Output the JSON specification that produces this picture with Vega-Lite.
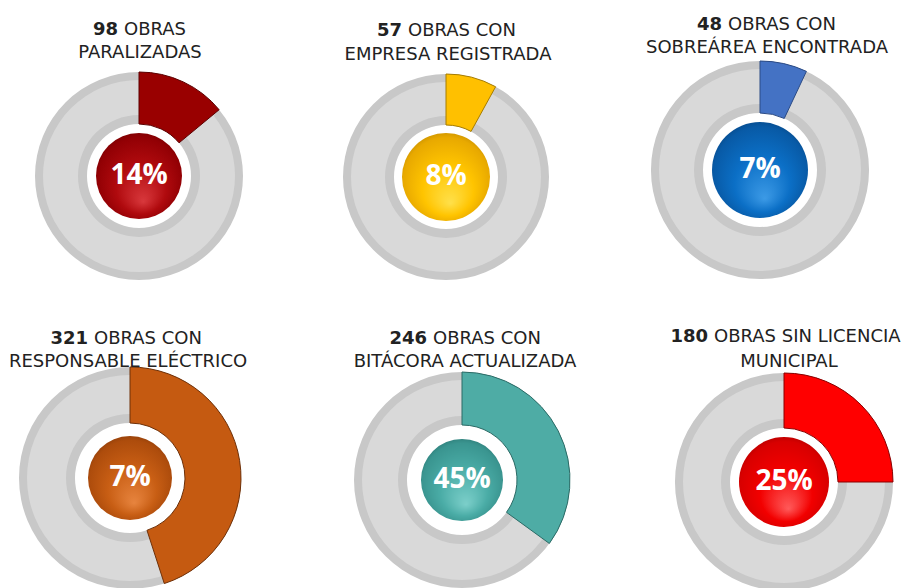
{
  "$schema": "https://vega.github.io/schema/vega-lite/v6.json",
  "padding": 0,
  "spacing": 0,
  "bounds": "flush",
  "background": "white",
  "columns": 3,
  "config": {"view": {"stroke": null}, "concat": {"spacing": 0}, "axis": {"disable": true}},
  "datasets": {
    "obras": [
      {"id": 1, "num": "98", "rest": "OBRAS", "line2": "PARALIZADAS", "label": "14%", "share": 0.14},
      {"id": 2, "num": "57", "rest": "OBRAS CON", "line2": "EMPRESA REGISTRADA", "label": "8%", "share": 0.08},
      {"id": 3, "num": "48", "rest": "OBRAS CON", "line2": "SOBREÁREA ENCONTRADA", "label": "7%", "share": 0.07},
      {"id": 4, "num": "321", "rest": "OBRAS CON", "line2": "RESPONSABLE ELÉCTRICO", "label": "7%", "share": 0.45},
      {"id": 5, "num": "246", "rest": "OBRAS CON", "line2": "BITÁCORA ACTUALIZADA", "label": "45%", "share": 0.35},
      {"id": 6, "num": "180", "rest": "OBRAS SIN LICENCIA", "line2": "MUNICIPAL", "label": "25%", "share": 0.25}
    ]
  },
  "concat": [
    {
      "width": 304, "height": 294,
      "data": {"name": "obras"},
      "transform": [{"filter": "datum.id == 1"}],
      "encoding": {
        "x": {"datum": 139, "type": "quantitative", "scale": {"domain": [0, 304]}},
        "y": {"datum": 176, "type": "quantitative", "scale": {"domain": [0, 294], "reverse": true}}
      },
      "layer": [
        {"mark": {"type": "arc", "theta": 0, "theta2": 6.2832, "radius": 104, "radius2": 52, "fill": "#c8c8c8"}},
        {"mark": {"type": "arc", "theta": 0, "theta2": 6.2832, "radius": 96, "radius2": 61, "fill": "#d9d9d9"}},
        {"mark": {"type": "arc", "radius": 104, "radius2": 52, "fill": "#990000", "stroke": "#5c0000", "strokeWidth": 1},
         "encoding": {"theta": {"field": "share", "type": "quantitative", "scale": {"domain": [0, 1]}}}},
        {"mark": {"type": "arc", "theta": 0, "theta2": 6.2832, "radius": 43,
          "fill": {"gradient": "radial", "x1": 0.55, "y1": 0.8, "r1": 0, "x2": 0.5, "y2": 0.5, "r2": 0.58,
            "stops": [{"offset": 0, "color": "#d8383c"}, {"offset": 0.5, "color": "#b00a0e"}, {"offset": 0.85, "color": "#920004"}, {"offset": 1, "color": "#6a0000"}]}}},
        {"mark": {"type": "text", "font": "Open Sans", "fontWeight": "bold", "fontSize": 28, "fill": "white", "baseline": "middle"},
         "encoding": {"text": {"field": "label"}}},
        {"mark": {"type": "text", "font": "DejaVu Sans", "fontWeight": "bold", "fontSize": 18, "align": "right", "fill": "#222222"},
         "encoding": {"x": {"datum": 118, "type": "quantitative", "scale": {"domain": [0, 304]}}, "y": {"datum": 30, "type": "quantitative", "scale": {"domain": [0, 294], "reverse": true}}, "text": {"field": "num"}}},
        {"mark": {"type": "text", "font": "DejaVu Sans", "fontSize": 18, "align": "left", "dx": 6, "fill": "#222222"},
         "encoding": {"x": {"datum": 118, "type": "quantitative", "scale": {"domain": [0, 304]}}, "y": {"datum": 30, "type": "quantitative", "scale": {"domain": [0, 294], "reverse": true}}, "text": {"field": "rest"}}},
        {"mark": {"type": "text", "font": "DejaVu Sans", "fontSize": 18, "align": "center", "fill": "#222222"},
         "encoding": {"x": {"datum": 140, "type": "quantitative", "scale": {"domain": [0, 304]}}, "y": {"datum": 53, "type": "quantitative", "scale": {"domain": [0, 294], "reverse": true}}, "text": {"field": "line2"}}}
      ]
    },
    {
      "width": 304, "height": 294,
      "data": {"name": "obras"},
      "transform": [{"filter": "datum.id == 2"}],
      "encoding": {
        "x": {"datum": 142, "type": "quantitative", "scale": {"domain": [0, 304]}},
        "y": {"datum": 177, "type": "quantitative", "scale": {"domain": [0, 294], "reverse": true}}
      },
      "layer": [
        {"mark": {"type": "arc", "theta": 0, "theta2": 6.2832, "radius": 103, "radius2": 52, "fill": "#c8c8c8"}},
        {"mark": {"type": "arc", "theta": 0, "theta2": 6.2832, "radius": 95, "radius2": 61, "fill": "#d9d9d9"}},
        {"mark": {"type": "arc", "radius": 103, "radius2": 52, "fill": "#ffc000", "stroke": "#a67c00", "strokeWidth": 1},
         "encoding": {"theta": {"field": "share", "type": "quantitative", "scale": {"domain": [0, 1]}}}},
        {"mark": {"type": "arc", "theta": 0, "theta2": 6.2832, "radius": 44,
          "fill": {"gradient": "radial", "x1": 0.55, "y1": 0.8, "r1": 0, "x2": 0.5, "y2": 0.5, "r2": 0.58,
            "stops": [{"offset": 0, "color": "#ffe04a"}, {"offset": 0.5, "color": "#ffc400"}, {"offset": 0.85, "color": "#e8a900"}, {"offset": 1, "color": "#b88400"}]}}},
        {"mark": {"type": "text", "font": "Open Sans", "fontWeight": "bold", "fontSize": 28, "fill": "white", "baseline": "middle"},
         "encoding": {"text": {"field": "label"}}},
        {"mark": {"type": "text", "font": "DejaVu Sans", "fontWeight": "bold", "fontSize": 18, "align": "right", "fill": "#222222"},
         "encoding": {"x": {"datum": 98, "type": "quantitative", "scale": {"domain": [0, 304]}}, "y": {"datum": 31, "type": "quantitative", "scale": {"domain": [0, 294], "reverse": true}}, "text": {"field": "num"}}},
        {"mark": {"type": "text", "font": "DejaVu Sans", "fontSize": 18, "align": "left", "dx": 6, "fill": "#222222"},
         "encoding": {"x": {"datum": 98, "type": "quantitative", "scale": {"domain": [0, 304]}}, "y": {"datum": 31, "type": "quantitative", "scale": {"domain": [0, 294], "reverse": true}}, "text": {"field": "rest"}}},
        {"mark": {"type": "text", "font": "DejaVu Sans", "fontSize": 18, "align": "center", "fill": "#222222"},
         "encoding": {"x": {"datum": 144, "type": "quantitative", "scale": {"domain": [0, 304]}}, "y": {"datum": 55, "type": "quantitative", "scale": {"domain": [0, 294], "reverse": true}}, "text": {"field": "line2"}}}
      ]
    },
    {
      "width": 304, "height": 294,
      "data": {"name": "obras"},
      "transform": [{"filter": "datum.id == 3"}],
      "encoding": {
        "x": {"datum": 152, "type": "quantitative", "scale": {"domain": [0, 304]}},
        "y": {"datum": 170, "type": "quantitative", "scale": {"domain": [0, 294], "reverse": true}}
      },
      "layer": [
        {"mark": {"type": "arc", "theta": 0, "theta2": 6.2832, "radius": 109, "radius2": 57, "fill": "#c8c8c8"}},
        {"mark": {"type": "arc", "theta": 0, "theta2": 6.2832, "radius": 101, "radius2": 66, "fill": "#d9d9d9"}},
        {"mark": {"type": "arc", "radius": 109, "radius2": 57, "fill": "#4472c4", "stroke": "#2a4a85", "strokeWidth": 1},
         "encoding": {"theta": {"field": "share", "type": "quantitative", "scale": {"domain": [0, 1]}}}},
        {"mark": {"type": "arc", "theta": 0, "theta2": 6.2832, "radius": 48,
          "fill": {"gradient": "radial", "x1": 0.55, "y1": 0.8, "r1": 0, "x2": 0.5, "y2": 0.5, "r2": 0.58,
            "stops": [{"offset": 0, "color": "#3c9ae6"}, {"offset": 0.5, "color": "#0b6fc6"}, {"offset": 0.85, "color": "#085aa6"}, {"offset": 1, "color": "#053f78"}]}}},
        {"mark": {"type": "text", "font": "Open Sans", "fontWeight": "bold", "fontSize": 28, "fill": "white", "baseline": "middle"},
         "encoding": {"text": {"field": "label"}}},
        {"mark": {"type": "text", "font": "DejaVu Sans", "fontWeight": "bold", "fontSize": 18, "align": "right", "fill": "#222222"},
         "encoding": {"x": {"datum": 114, "type": "quantitative", "scale": {"domain": [0, 304]}}, "y": {"datum": 25, "type": "quantitative", "scale": {"domain": [0, 294], "reverse": true}}, "text": {"field": "num"}}},
        {"mark": {"type": "text", "font": "DejaVu Sans", "fontSize": 18, "align": "left", "dx": 6, "fill": "#222222"},
         "encoding": {"x": {"datum": 114, "type": "quantitative", "scale": {"domain": [0, 304]}}, "y": {"datum": 25, "type": "quantitative", "scale": {"domain": [0, 294], "reverse": true}}, "text": {"field": "rest"}}},
        {"mark": {"type": "text", "font": "DejaVu Sans", "fontSize": 18, "align": "center", "fill": "#222222"},
         "encoding": {"x": {"datum": 159, "type": "quantitative", "scale": {"domain": [0, 304]}}, "y": {"datum": 48, "type": "quantitative", "scale": {"domain": [0, 294], "reverse": true}}, "text": {"field": "line2"}}}
      ]
    },
    {
      "width": 304, "height": 294,
      "data": {"name": "obras"},
      "transform": [{"filter": "datum.id == 4"}],
      "encoding": {
        "x": {"datum": 130, "type": "quantitative", "scale": {"domain": [0, 304]}},
        "y": {"datum": 184, "type": "quantitative", "scale": {"domain": [0, 294], "reverse": true}}
      },
      "layer": [
        {"mark": {"type": "arc", "theta": 0, "theta2": 6.2832, "radius": 111, "radius2": 55, "fill": "#c8c8c8"}},
        {"mark": {"type": "arc", "theta": 0, "theta2": 6.2832, "radius": 103, "radius2": 64, "fill": "#d9d9d9"}},
        {"mark": {"type": "arc", "radius": 111, "radius2": 55, "fill": "#c55a11", "stroke": "#6e3008", "strokeWidth": 1},
         "encoding": {"theta": {"field": "share", "type": "quantitative", "scale": {"domain": [0, 1]}}}},
        {"mark": {"type": "arc", "theta": 0, "theta2": 6.2832, "radius": 42,
          "fill": {"gradient": "radial", "x1": 0.55, "y1": 0.8, "r1": 0, "x2": 0.5, "y2": 0.5, "r2": 0.58,
            "stops": [{"offset": 0, "color": "#e7843e"}, {"offset": 0.5, "color": "#c85e14"}, {"offset": 0.85, "color": "#ad4c0c"}, {"offset": 1, "color": "#7e3608"}]}}},
        {"mark": {"type": "text", "font": "Open Sans", "fontWeight": "bold", "fontSize": 28, "fill": "white", "baseline": "middle"},
         "encoding": {"text": {"field": "label"}}},
        {"mark": {"type": "text", "font": "DejaVu Sans", "fontWeight": "bold", "fontSize": 18, "align": "right", "fill": "#222222"},
         "encoding": {"x": {"datum": 88, "type": "quantitative", "scale": {"domain": [0, 304]}}, "y": {"datum": 45, "type": "quantitative", "scale": {"domain": [0, 294], "reverse": true}}, "text": {"field": "num"}}},
        {"mark": {"type": "text", "font": "DejaVu Sans", "fontSize": 18, "align": "left", "dx": 6, "fill": "#222222"},
         "encoding": {"x": {"datum": 88, "type": "quantitative", "scale": {"domain": [0, 304]}}, "y": {"datum": 45, "type": "quantitative", "scale": {"domain": [0, 294], "reverse": true}}, "text": {"field": "rest"}}},
        {"mark": {"type": "text", "font": "DejaVu Sans", "fontSize": 18, "align": "center", "fill": "#222222"},
         "encoding": {"x": {"datum": 128, "type": "quantitative", "scale": {"domain": [0, 304]}}, "y": {"datum": 68, "type": "quantitative", "scale": {"domain": [0, 294], "reverse": true}}, "text": {"field": "line2"}}}
      ]
    },
    {
      "width": 304, "height": 294,
      "data": {"name": "obras"},
      "transform": [{"filter": "datum.id == 5"}],
      "encoding": {
        "x": {"datum": 158, "type": "quantitative", "scale": {"domain": [0, 304]}},
        "y": {"datum": 186, "type": "quantitative", "scale": {"domain": [0, 294], "reverse": true}}
      },
      "layer": [
        {"mark": {"type": "arc", "theta": 0, "theta2": 6.2832, "radius": 108, "radius2": 55, "fill": "#c8c8c8"}},
        {"mark": {"type": "arc", "theta": 0, "theta2": 6.2832, "radius": 100, "radius2": 64, "fill": "#d9d9d9"}},
        {"mark": {"type": "arc", "radius": 108, "radius2": 55, "fill": "#4eaca5", "stroke": "#2b6b66", "strokeWidth": 1},
         "encoding": {"theta": {"field": "share", "type": "quantitative", "scale": {"domain": [0, 1]}}}},
        {"mark": {"type": "arc", "theta": 0, "theta2": 6.2832, "radius": 41,
          "fill": {"gradient": "radial", "x1": 0.55, "y1": 0.8, "r1": 0, "x2": 0.5, "y2": 0.5, "r2": 0.58,
            "stops": [{"offset": 0, "color": "#7ccfca"}, {"offset": 0.5, "color": "#4aaca6"}, {"offset": 0.85, "color": "#3a9590"}, {"offset": 1, "color": "#276e6a"}]}}},
        {"mark": {"type": "text", "font": "Open Sans", "fontWeight": "bold", "fontSize": 28, "fill": "white", "baseline": "middle"},
         "encoding": {"text": {"field": "label"}}},
        {"mark": {"type": "text", "font": "DejaVu Sans", "fontWeight": "bold", "fontSize": 18, "align": "right", "fill": "#222222"},
         "encoding": {"x": {"datum": 123, "type": "quantitative", "scale": {"domain": [0, 304]}}, "y": {"datum": 45, "type": "quantitative", "scale": {"domain": [0, 294], "reverse": true}}, "text": {"field": "num"}}},
        {"mark": {"type": "text", "font": "DejaVu Sans", "fontSize": 18, "align": "left", "dx": 6, "fill": "#222222"},
         "encoding": {"x": {"datum": 123, "type": "quantitative", "scale": {"domain": [0, 304]}}, "y": {"datum": 45, "type": "quantitative", "scale": {"domain": [0, 294], "reverse": true}}, "text": {"field": "rest"}}},
        {"mark": {"type": "text", "font": "DejaVu Sans", "fontSize": 18, "align": "center", "fill": "#222222"},
         "encoding": {"x": {"datum": 161, "type": "quantitative", "scale": {"domain": [0, 304]}}, "y": {"datum": 68, "type": "quantitative", "scale": {"domain": [0, 294], "reverse": true}}, "text": {"field": "line2"}}}
      ]
    },
    {
      "width": 304, "height": 294,
      "data": {"name": "obras"},
      "transform": [{"filter": "datum.id == 6"}],
      "encoding": {
        "x": {"datum": 176, "type": "quantitative", "scale": {"domain": [0, 304]}},
        "y": {"datum": 188, "type": "quantitative", "scale": {"domain": [0, 294], "reverse": true}}
      },
      "layer": [
        {"mark": {"type": "arc", "theta": 0, "theta2": 6.2832, "radius": 109, "radius2": 54, "fill": "#c8c8c8"}},
        {"mark": {"type": "arc", "theta": 0, "theta2": 6.2832, "radius": 101, "radius2": 63, "fill": "#d9d9d9"}},
        {"mark": {"type": "arc", "radius": 109, "radius2": 54, "fill": "#ff0000", "stroke": "#8a0000", "strokeWidth": 1},
         "encoding": {"theta": {"field": "share", "type": "quantitative", "scale": {"domain": [0, 1]}}}},
        {"mark": {"type": "arc", "theta": 0, "theta2": 6.2832, "radius": 45,
          "fill": {"gradient": "radial", "x1": 0.55, "y1": 0.8, "r1": 0, "x2": 0.5, "y2": 0.5, "r2": 0.58,
            "stops": [{"offset": 0, "color": "#ff5a5a"}, {"offset": 0.5, "color": "#f20000"}, {"offset": 0.85, "color": "#d80000"}, {"offset": 1, "color": "#a00000"}]}}},
        {"mark": {"type": "text", "font": "Open Sans", "fontWeight": "bold", "fontSize": 28, "fill": "white", "baseline": "middle"},
         "encoding": {"text": {"field": "label"}}},
        {"mark": {"type": "text", "font": "DejaVu Sans", "fontWeight": "bold", "fontSize": 18, "align": "right", "fill": "#222222"},
         "encoding": {"x": {"datum": 100, "type": "quantitative", "scale": {"domain": [0, 304]}}, "y": {"datum": 43, "type": "quantitative", "scale": {"domain": [0, 294], "reverse": true}}, "text": {"field": "num"}}},
        {"mark": {"type": "text", "font": "DejaVu Sans", "fontSize": 18, "align": "left", "dx": 6, "fill": "#222222"},
         "encoding": {"x": {"datum": 100, "type": "quantitative", "scale": {"domain": [0, 304]}}, "y": {"datum": 43, "type": "quantitative", "scale": {"domain": [0, 294], "reverse": true}}, "text": {"field": "rest"}}},
        {"mark": {"type": "text", "font": "DejaVu Sans", "fontSize": 18, "align": "center", "fill": "#222222"},
         "encoding": {"x": {"datum": 181, "type": "quantitative", "scale": {"domain": [0, 304]}}, "y": {"datum": 68, "type": "quantitative", "scale": {"domain": [0, 294], "reverse": true}}, "text": {"field": "line2"}}}
      ]
    }
  ]
}
